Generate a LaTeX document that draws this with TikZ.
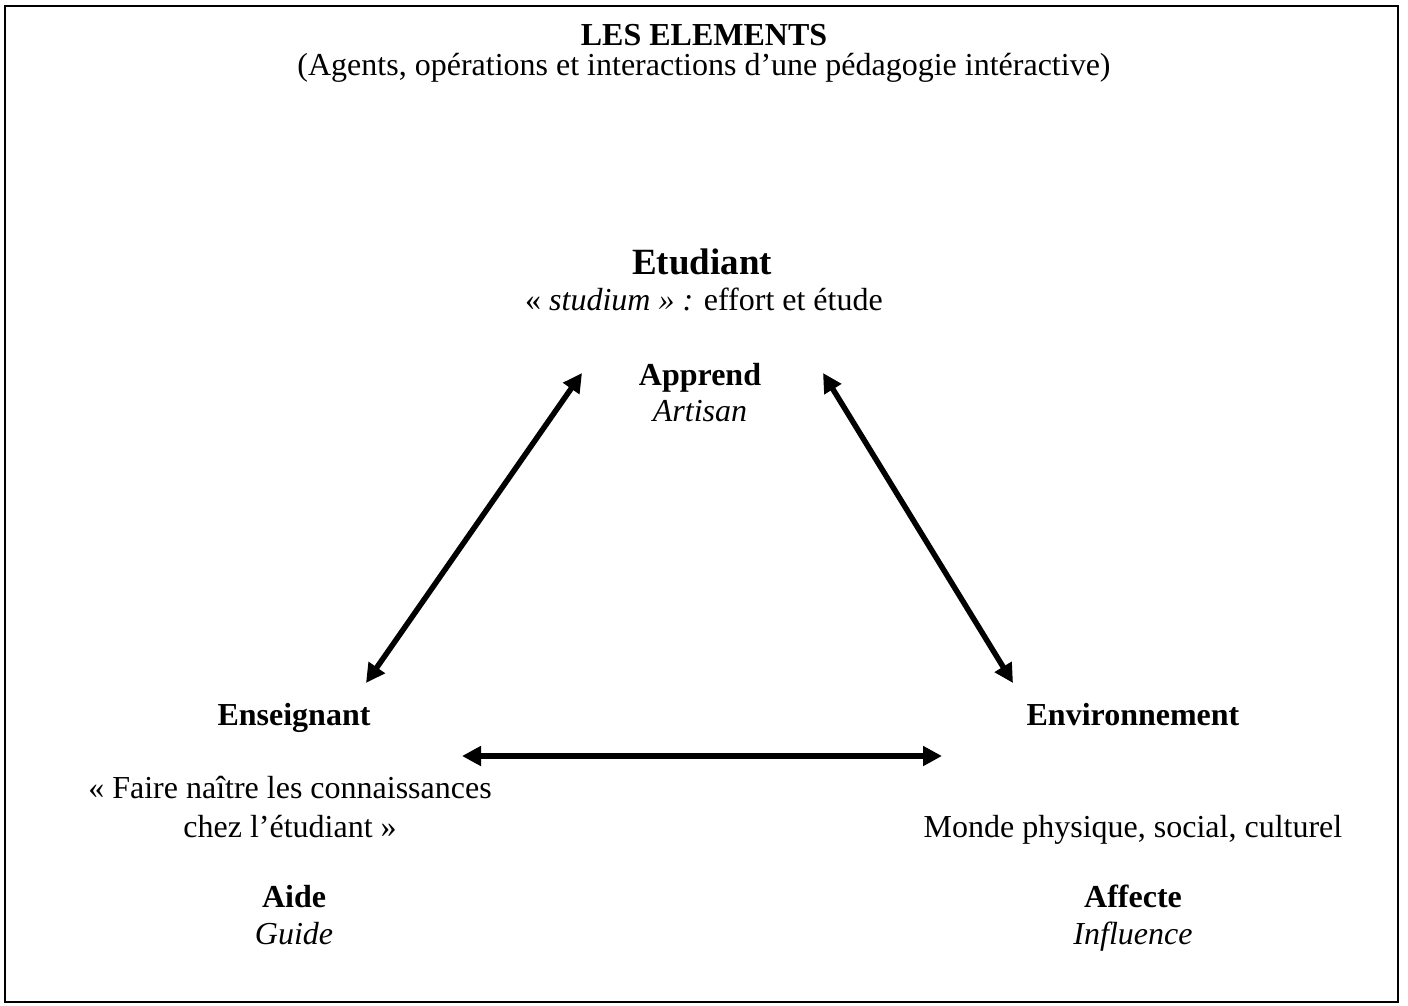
\documentclass[tikz,border=0pt]{standalone}
\usepackage{fontspec}
\setmainfont{Liberation Serif}
\usetikzlibrary{arrows.meta}
\begin{document}
\begin{tikzpicture}[x=1pt,y=-1pt,
  txt/.style={inner sep=0pt, anchor=base, font=\fontsize{32}{39}\selectfont, align=center},
  bold/.style={txt, font=\fontsize{32}{39}\selectfont\bfseries},
  ital/.style={txt, font=\fontsize{32}{39}\selectfont\itshape},
  big/.style={txt, font=\fontsize{37}{42}\selectfont\bfseries},
  link/.style={line width=5.5pt, {Triangle[length=19pt,width=19pt]}-{Triangle[length=19pt,width=19pt]}}]
\useasboundingbox (0,0) rectangle (1408,1005);
\draw[line width=2.5pt] (5,6) rectangle (1398,1002);

% title
\node[bold] (title) at (704,45) {LES ELEMENTS};
\node[txt] (subtitle) at (704,75) {(Agents, opérations et interactions d’une pédagogie intéractive)};

% top agent
\node[big] (etud) at (702,274) {Etudiant};
\node[txt] (etuddef) at (704,310) {« \textit{studium » :} effort et étude};
\node[bold] (apprend) at (700,385) {Apprend};
\node[ital] (artisan) at (700,421) {Artisan};

% left agent
\node[bold] (ens) at (294,725) {Enseignant};
\node[txt] (ensdef1) at (290,798) {« Faire naître les connaissances};
\node[txt] (ensdef2) at (290,837) {chez l’étudiant »};
\node[bold] (aide) at (294,907) {Aide};
\node[ital] (guide) at (294,944) {Guide};

% right agent
\node[bold] (env) at (1133,725) {Environnement};
\node[txt] (envdef) at (1133,837) {Monde physique, social, culturel};
\node[bold] (affecte) at (1133,907) {Affecte};
\node[ital] (influence) at (1133,944) {Influence};

% arrow ends
\coordinate (topL) at (582,373);
\coordinate (topR) at (823,373);
\coordinate (ensT) at (366,683);
\coordinate (envT) at (1013,683);
\coordinate (ensR) at (462,756);
\coordinate (envL) at (942,756);

\draw[link] (topL) -- (ensT);
\draw[link] (topR) -- (envT);
\draw[link] (ensR) -- (envL);
\end{tikzpicture}
\end{document}
